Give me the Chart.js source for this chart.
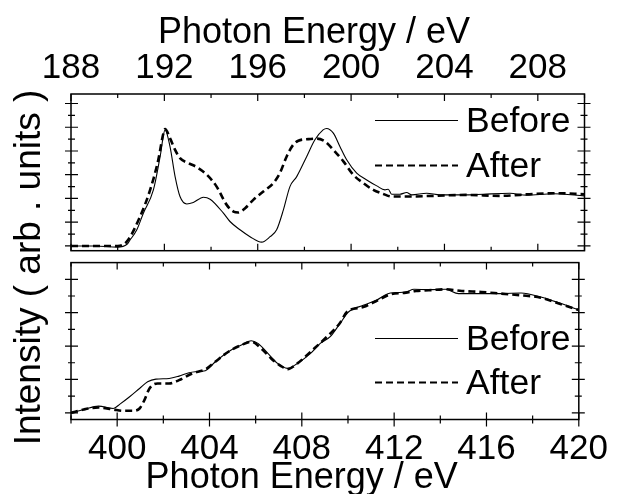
<!DOCTYPE html>
<html>
<head>
<meta charset="utf-8">
<title>B K-edge / N K-edge NEXAFS</title>
<script src="https://cdn.jsdelivr.net/npm/chart.js@4.4.1/dist/chart.umd.min.js"></script>
<style>
  html, body { margin: 0; padding: 0; background: #fff; }
  #wrap { position: relative; width: 617px; height: 494px; }
  #wrap canvas { position: absolute; left: 0; top: 0; }
</style>
</head>
<body>
<div id="wrap">
  <canvas id="boron" width="617" height="494"></canvas>
  <canvas id="nitrogen" width="617" height="494"></canvas>
</div>
<script>
// labels
const seriesNames = ['Before', 'After'];
const axisTitle = 'Photon Energy / eV';
const yTitle = 'Intensity ( arb . units )';

// tick labels
const bTicks = [188, 192, 196, 200, 204, 208];
const nTicks = [400, 404, 408, 412, 416, 420];

// top panel (B K-edge)
const bBeforeE = [188, 189, 190, 190.4, 190.53, 190.82, 191.1, 191.53, 191.82, 192.03, 192.24, 192.46, 192.67, 192.96,
  193.24, 193.67, 193.96, 194.53, 194.81, 195.24, 195.67, 196.17, 196.53, 196.81, 197.1, 197.38, 197.67, 198.1,
  198.45, 198.8, 198.95, 199.24, 199.52, 199.81, 200.24, 200.67, 201.1, 201.45, 201.59, 201.74, 202.09, 202.38,
  202.6, 203.24, 203.81, 204.95, 205.66, 206.8, 207.52, 208.66, 210];
const bBefore = [0, 0, -0.05, 0.07, 0.25, 0.68, 1.38, 2.36, 3.77, 4.89, 4.19, 2.92, 2.08, 1.77,
  1.83, 2.05, 1.97, 1.38, 1.03, 0.68, 0.39, 0.16, 0.39, 0.68, 1.52, 2.5, 2.92, 3.77,
  4.47, 4.89, 4.95, 4.75, 4.19, 3.63, 3.07, 2.78, 2.53, 2.36, 2.39, 2.18, 2.18, 2.25,
  2.15, 2.22, 2.15, 2.15, 2.18, 2.22, 2.14, 2.2, 2.11];

const bAfterE = [188, 189, 190, 190.39, 190.96, 191.39, 191.74, 191.96, 192.03, 192.24, 192.46, 192.67, 193.03,
  193.39, 193.82, 194.24, 194.67, 194.96, 195.17, 195.46, 195.81, 196.24, 196.67, 196.95, 197.24, 197.52,
  197.74, 198.17, 198.53, 198.88, 199.24, 199.67, 200.09, 200.52, 200.95, 201.38, 201.74, 202.38, 203.52,
  204.95, 206.38, 207.8, 208.8, 210];
const bAfter = [0, 0, 0, 0.18, 1.24, 2.36, 3.63, 4.75, 4.92, 4.54, 4.05, 3.7, 3.49,
  3.32, 3.0, 2.5, 1.73, 1.45, 1.41, 1.59, 1.94, 2.29, 2.65, 3.07, 3.77, 4.26,
  4.43, 4.5, 4.52, 4.4, 4.05, 3.56, 3.0, 2.65, 2.36, 2.19, 2.08, 2.08, 2.11,
  2.15, 2.11, 2.19, 2.22, 2.18];

// bottom panel (N K-edge)
const nBeforeE = [398, 398.55, 399.19, 399.83, 400.12, 400.54, 400.97, 401.32, 401.68, 402.25, 402.68, 403.11,
  403.39, 403.82, 404.25, 404.82, 405.38, 405.81, 406.1, 406.53, 406.95, 407.38, 407.81, 408.38, 408.8,
  409.23, 409.66, 410.02, 410.66, 411.23, 411.73, 412.08, 412.51, 412.86, 413.5, 414.22, 414.79, 415.64,
  416.64, 417.5, 418.35, 419.2, 420];
const nBefore = [0, 0.1, 0.2, 0.13, 0.26, 0.48, 0.73, 0.93, 1.01, 1.03, 1.1, 1.2,
  1.23, 1.26, 1.53, 1.83, 2.03, 2.16, 2.08, 1.78, 1.48, 1.33, 1.48, 1.78, 2.08,
  2.28, 2.68, 3.02, 3.22, 3.37, 3.57, 3.6, 3.62, 3.7, 3.69, 3.7, 3.57, 3.57,
  3.57, 3.59, 3.47, 3.28, 3.08];

const nAfterE = [398, 398.55, 399.19, 399.83, 400.26, 400.69, 400.97, 401.18, 401.4, 401.75, 402.25, 402.68,
  403.25, 403.82, 404.25, 404.82, 405.38, 405.81, 406.24, 406.67, 407.1, 407.38, 407.81, 408.38, 409.09,
  409.66, 409.95, 410.66, 411.23, 411.8, 412.51, 412.94, 413.5, 414.22, 414.93, 415.79, 416.64, 417.5,
  418.35, 419.2, 420];
const nAfter = [0, 0.1, 0.16, 0.1, 0.06, 0.06, 0.13, 0.38, 0.73, 0.88, 0.88, 0.98,
  1.18, 1.3, 1.53, 1.83, 2.03, 2.13, 1.93, 1.63, 1.4, 1.31, 1.48, 1.83, 2.28,
  2.7, 3.02, 3.17, 3.35, 3.54, 3.6, 3.65, 3.67, 3.7, 3.65, 3.62, 3.57, 3.52,
  3.45, 3.26, 3.08];

const FONT = "'Liberation Sans', Arial, Helvetica, sans-serif";
Chart.defaults.font.family = FONT;
Chart.defaults.color = '#000';

const toPoints = (xs, ys) => xs.map((x, i) => ({ x: x, y: ys[i] }));

const makeDatasets = (beforeE, before, afterE, after) => [
  {
    label: seriesNames[0],
    data: toPoints(beforeE, before),
    borderColor: '#000',
    borderWidth: 1.1,
    pointRadius: 0,
    cubicInterpolationMode: 'monotone',
    fill: false
  },
  {
    label: seriesNames[1],
    data: toPoints(afterE, after),
    borderColor: '#000',
    borderWidth: 2.6,
    borderDash: [7, 4],
    pointRadius: 0,
    cubicInterpolationMode: 'monotone',
    fill: false
  }
];

// frame + tick marks on all four sides, legend, free-standing titles
const panelDecor = {
  id: 'panelDecor',
  afterDraw(chart, args, opts) {
    const { ctx, chartArea: a, scales } = chart;
    const x = scales.x, y = scales.y;
    ctx.save();
    ctx.strokeStyle = '#000';
    ctx.lineWidth = 1.5;
    ctx.strokeRect(a.left, a.top, a.right - a.left, a.bottom - a.top);

    ctx.lineWidth = 1.2;
    ctx.beginPath();
    // x ticks every 2 eV, labelled ones are long
    for (let v = x.min; v <= x.max + 1e-6; v += 2) {
      const px = x.getPixelForValue(v);
      const major = x.ticks.some(t => Math.abs(t.value - v) < 1e-6);
      const len = major ? 7 : 4;
      ctx.moveTo(px, a.top);
      ctx.lineTo(px, a.top + len);
      if (opts.bottomCross) {
        ctx.moveTo(px, a.bottom + len);
      } else {
        ctx.moveTo(px, a.bottom);
      }
      ctx.lineTo(px, a.bottom - len);
    }
    // y ticks every 0.5, crossing the frame
    for (let v = 0; v < y.max - 0.05; v += 0.5) {
      const py = y.getPixelForValue(v);
      const major = Math.abs(v - Math.round(v)) < 1e-6;
      const out = major ? 6 : 3;
      const inn = major ? 7 : 4;
      ctx.moveTo(a.left - out, py);
      ctx.lineTo(a.left + inn, py);
      ctx.moveTo(a.right - inn, py);
      ctx.lineTo(a.right + out, py);
    }
    ctx.stroke();

    // legend
    const lg = opts.legend;
    ctx.font = `${lg.size}px ${FONT}`;
    ctx.fillStyle = '#000';
    ctx.textAlign = 'left';
    ctx.textBaseline = 'alphabetic';
    chart.data.datasets.forEach((ds, i) => {
      const base = lg.baselines[i];
      ctx.lineWidth = ds.borderDash ? 2.2 : 1.1;
      ctx.setLineDash(ds.borderDash || []);
      ctx.beginPath();
      ctx.moveTo(lg.lineFrom, base - 11.5);
      ctx.lineTo(lg.lineTo, base - 11.5);
      ctx.stroke();
      ctx.setLineDash([]);
      ctx.fillText(ds.label, lg.textX, base);
    });

    // axis title
    ctx.font = `36px ${FONT}`;
    ctx.textAlign = 'center';
    ctx.fillText(axisTitle, opts.titleX, opts.titleY);

    if (opts.yTitle) {
      ctx.translate(40, 267.5);
      ctx.rotate(-Math.PI / 2);
      ctx.font = `37px ${FONT}`;
      ctx.fillText(yTitle, 0, 0);
    }
    ctx.restore();
  }
};

const makeChart = (id, cfg) => new Chart(document.getElementById(id), {
  type: 'line',
  data: { datasets: cfg.datasets },
  options: {
    responsive: false,
    animation: false,
    events: [],
    layout: { padding: cfg.padding },
    scales: {
      x: {
        type: 'linear',
        position: cfg.xPos,
        min: cfg.xMin,
        max: cfg.xMax,
        afterBuildTicks: s => { s.ticks = cfg.ticks.map(v => ({ value: v })); },
        afterFit: s => { s.height = cfg.xHeight; },
        grid: { display: false, drawTicks: false },
        border: { display: false },
        ticks: { font: { size: 35 }, color: '#000', padding: cfg.tickPad, maxRotation: 0, autoSkip: false }
      },
      y: {
        type: 'linear',
        min: cfg.yMin,
        max: cfg.yMax,
        display: false
      }
    },
    plugins: {
      legend: { display: false },
      tooltip: { enabled: false },
      panelDecor: cfg.decor
    }
  },
  plugins: [panelDecor]
});

makeChart('boron', {
  datasets: makeDatasets(bBeforeE, bBefore, bAfterE, bAfter),
  padding: { top: 0, left: 71, right: 32.5, bottom: 243.3 },
  xPos: 'top', xMin: 188, xMax: 210, ticks: bTicks, xHeight: 94, tickPad: 5,
  yMin: -0.2, yMax: 6.4,
  decor: {
    bottomCross: false,
    legend: { size: 35.5, textX: 466, lineFrom: 375, lineTo: 458, baselines: [132, 177] },
    titleX: 314, titleY: 43.3, yTitle: true
  }
});

makeChart('nitrogen', {
  datasets: makeDatasets(nBeforeE, nBefore, nAfterE, nAfter),
  padding: { top: 262.6, left: 71, right: 32.5, bottom: 0 },
  xPos: 'bottom', xMin: 398, xMax: 420, ticks: nTicks, xHeight: 74.5, tickPad: 9,
  yMin: -0.2, yMax: 4.5,
  decor: {
    bottomCross: true,
    legend: { size: 35.5, textX: 466, lineFrom: 375, lineTo: 458, baselines: [350, 394] },
    titleX: 301.7, titleY: 488, yTitle: false
  }
});
</script>
</body>
</html>
